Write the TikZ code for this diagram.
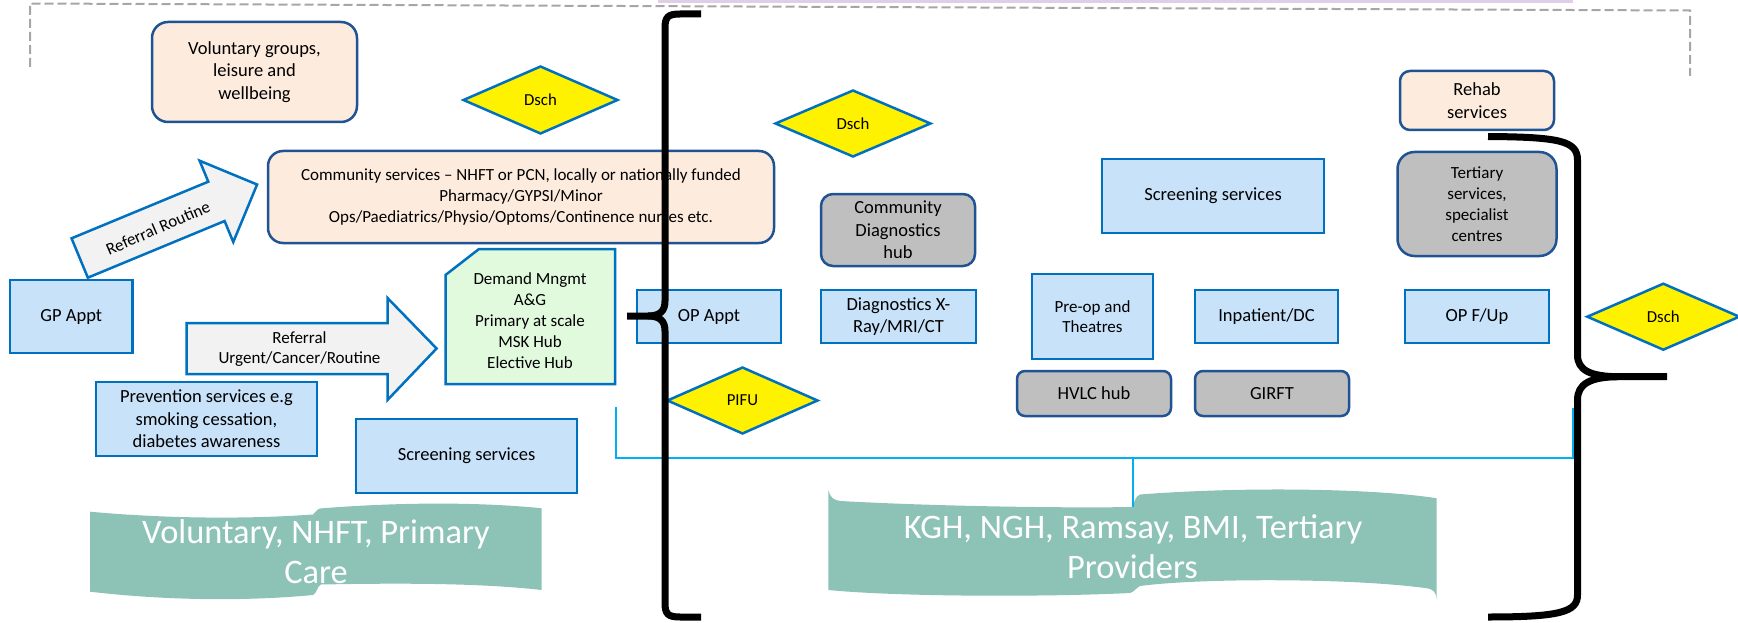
\documentclass[tikz,border=0pt]{standalone}
\usepackage{fontspec}
\setmainfont{Carlito}
\usetikzlibrary{shapes.geometric}

\definecolor{boxblue}{RGB}{0,112,192}
\definecolor{lightblue}{RGB}{200,226,250}
\definecolor{navy}{RGB}{31,83,148}
\definecolor{peach}{RGB}{253,235,221}
\definecolor{greyfill}{RGB}{191,191,191}
\definecolor{mint}{RGB}{225,250,222}
\definecolor{arrowfill}{RGB}{242,242,242}
\definecolor{bannerteal}{RGB}{141,194,183}
\definecolor{cyanline}{RGB}{0,176,240}
\definecolor{dashgrey}{RGB}{166,166,166}
\definecolor{lilac}{RGB}{224,205,230}

\newcommand{\fsz}[2]{\fontsize{#1}{#2}\selectfont}

\begin{document}
\begin{tikzpicture}[x=1pt,y=-1pt,
  every node/.style={inner sep=0pt, align=center, font=\fsz{18.5}{22.5}},
  sqbox/.style={draw=boxblue, fill=lightblue, line width=2.5pt},
  rbox/.style={draw=navy, line width=2.5pt, rounded corners=#1},
  peachbox/.style={rbox=#1, fill=peach},
  greybox/.style={rbox=#1, fill=greyfill},
  dschdiamond/.style={diamond, draw=boxblue, fill=yellow, line width=2.5pt,
    font=\fsz{16.8}{20}},
  arrowshape/.style={draw=boxblue, fill=arrowfill, line width=2.5pt, line join=miter},
  bannertext/.style={text=white, font=\fsz{34.4}{40}, anchor=base},
  bracestroke/.style={line width=7pt, black},
  smalltext/.style={font=\fsz{17}{21}}
]
\useasboundingbox (0,0) rectangle (1738,623);

% frame at the top
\fill[lilac] (658,0) rectangle (1573,3);
\draw[dashgrey, line width=2pt, dash pattern=on 9pt off 4pt]
  (30,67) -- (30,3.5) -- (1690,10.5) -- (1690,76);

% left-hand side
\node[peachbox=16, minimum width=205, minimum height=100] (vol) at (254.5,72)
  {Voluntary groups,\\leisure and\\wellbeing};
\node[dschdiamond, minimum width=155, minimum height=68] (d1) at (540.5,100) {Dsch};
\node[peachbox=15, minimum width=506, minimum height=92, smalltext] (comm) at (521,197)
  {Community services -- NHFT or PCN, locally or nationally funded\\
   Pharmacy/GYPSI/Minor\\
   Ops/Paediatrics/Physio/Optoms/Continence nurses etc.};

\draw[arrowshape] (71.55,238.32) -- (208.29,181.68) -- (199.6,160.71) -- (257.09,184.52)
  -- (233.28,242.01) -- (224.59,221.04) -- (87.85,277.68) -- cycle;
\node[rotate=23.5, smalltext] (rr) at (158,228) {Referral Routine};

\node[sqbox, minimum width=122.6, minimum height=73] (gp) at (71.3,316.5) {GP Appt};

\draw[arrowshape] (186.6,323) -- (387.5,323) -- (387.5,298) -- (436.6,348.5)
  -- (387.5,400) -- (387.5,374) -- (186.6,374) -- cycle;
\node[smalltext, font=\fsz{17}{20}] (ref) at (299.5,349) {Referral\\Urgent/Cancer/Routine};

\draw[draw=boxblue, fill=mint, line width=2.5pt, line join=miter]
  (445.5,275) -- (479,249) -- (615,249) -- (615,384) -- (445.5,384) -- cycle;
\node[smalltext] (dm) at (530,321)
  {Demand Mngmt\\A\&G\\Primary at scale\\MSK Hub\\Elective Hub};

\node[sqbox, minimum width=221, minimum height=74] (prev) at (206.5,419)
  {Prevention services e.g\\smoking cessation,\\diabetes awareness};
\node[sqbox, minimum width=221, minimum height=74] (scrL) at (466.5,456) {Screening services};

% provider banners
\fill[bannerteal] (90,511.7) .. controls (170,519) and (250,519) .. (313,514.5)
  .. controls (316,513) and (316,509.5) .. (320,508.5)
  .. controls (400,502) and (480,502) .. (541.7,508.3) -- (541.7,590)
  .. controls (480,583) and (400,583) .. (321,584.5)
  .. controls (317,586) and (317,593.5) .. (313,595)
  .. controls (250,601) and (170,601) .. (90,591.7) -- cycle;
\node[bannertext] (bl1) at (316,543) {Voluntary, NHFT, Primary};
\node[bannertext] (bl2) at (316,583) {Care};

\fill[bannerteal] (828.3,490) .. controls (830,497) and (833,500) .. (840,501)
  .. controls (950,507) and (1080,508) .. (1131.5,507)
  .. controls (1134,505) and (1135,495.5) .. (1140,494.5)
  .. controls (1250,486) and (1380,489) .. (1436.7,498.3) -- (1436.7,600)
  .. controls (1436,592) and (1434,589) .. (1425,588)
  .. controls (1350,578) and (1200,578) .. (1140,586)
  .. controls (1136,588) and (1134,592) .. (1130,593)
  .. controls (1050,597) and (900,597) .. (828.3,590) -- cycle;
\node[bannertext] (br1) at (1133,538.3) {KGH, NGH, Ramsay, BMI, Tertiary};
\node[bannertext] (br2) at (1132.5,578.3) {Providers};

% provider pathway
\node[dschdiamond, minimum width=156, minimum height=67] (d2) at (853,123.5) {Dsch};
\node[greybox=12, minimum width=154, minimum height=72] (cdh) at (898,230)
  {Community\\Diagnostics\\hub};
\node[sqbox, minimum width=222, minimum height=74] (scrR) at (1213,196) {Screening services};
\node[peachbox=10, minimum width=154, minimum height=59] (rehab) at (1477,100.5)
  {Rehab\\services};
\node[greybox=17, minimum width=159, minimum height=104, smalltext] (tert) at (1477,204)
  {Tertiary\\services,\\specialist\\centres};

\node[sqbox, minimum width=144, minimum height=53] (opa) at (709,316.5) {OP Appt};
\node[sqbox, minimum width=155, minimum height=53] (diag) at (898.5,316.5)
  {Diagnostics X-\\Ray/MRI/CT};
\node[sqbox, minimum width=121, minimum height=85, smalltext, font=\fsz{17}{20}] (preop)
  at (1092.5,316.5) {Pre-op and\\Theatres};
\node[sqbox, minimum width=143, minimum height=53] (inp) at (1266.5,316.5) {Inpatient/DC};
\node[sqbox, minimum width=144, minimum height=53] (opf) at (1477,316.5) {OP F/Up};
\node[greybox=8, minimum width=154, minimum height=45] (hvlc) at (1094,393.5) {HVLC hub};
\node[greybox=8, minimum width=154, minimum height=45] (girft) at (1272,393.5) {GIRFT};
\node[dschdiamond, minimum width=151, minimum height=67] (pifu) at (742.5,400.5) {PIFU};
\node[dschdiamond, minimum width=153, minimum height=67] (d3) at (1663.3,316.7) {Dsch};

% span of the provider pathway
\coordinate (spanL) at (616,407);
\coordinate (spanLb) at (616,458);
\coordinate (spanRb) at (1573,458);
\coordinate (spanR) at (1573,408);
\coordinate (spanMid) at (1133,458);
\coordinate (spanTick) at (1133,507);
\draw[cyanline, line width=2pt] (spanL) -- (spanLb) -- (spanRb) -- (spanR);
\draw[cyanline, line width=2pt] (spanMid) -- (spanTick);

% braces
\draw[bracestroke] (701,14) -- (680,14) .. controls (668,14) and (665,17) .. (665,28)
  -- (665,301) .. controls (665,311) and (660,316) .. (648,316) -- (627,316);
\draw[bracestroke] (648,316) .. controls (660,316) and (665,321) .. (665,331)
  -- (665,603) .. controls (665,614) and (668,617) .. (680,617) -- (701,617);

\draw[bracestroke] (1488,136.5) .. controls (1560,137) and (1577.5,141) .. (1577.5,160)
  -- (1577.5,355) .. controls (1577.5,370) and (1590,376.5) .. (1618,376.7) -- (1667,376.7);
\draw[bracestroke] (1618,376.7) .. controls (1590,377) and (1577.5,384) .. (1577.5,400)
  -- (1577.5,595) .. controls (1577.5,612) and (1560,617) .. (1488,617);
\end{tikzpicture}
\end{document}
